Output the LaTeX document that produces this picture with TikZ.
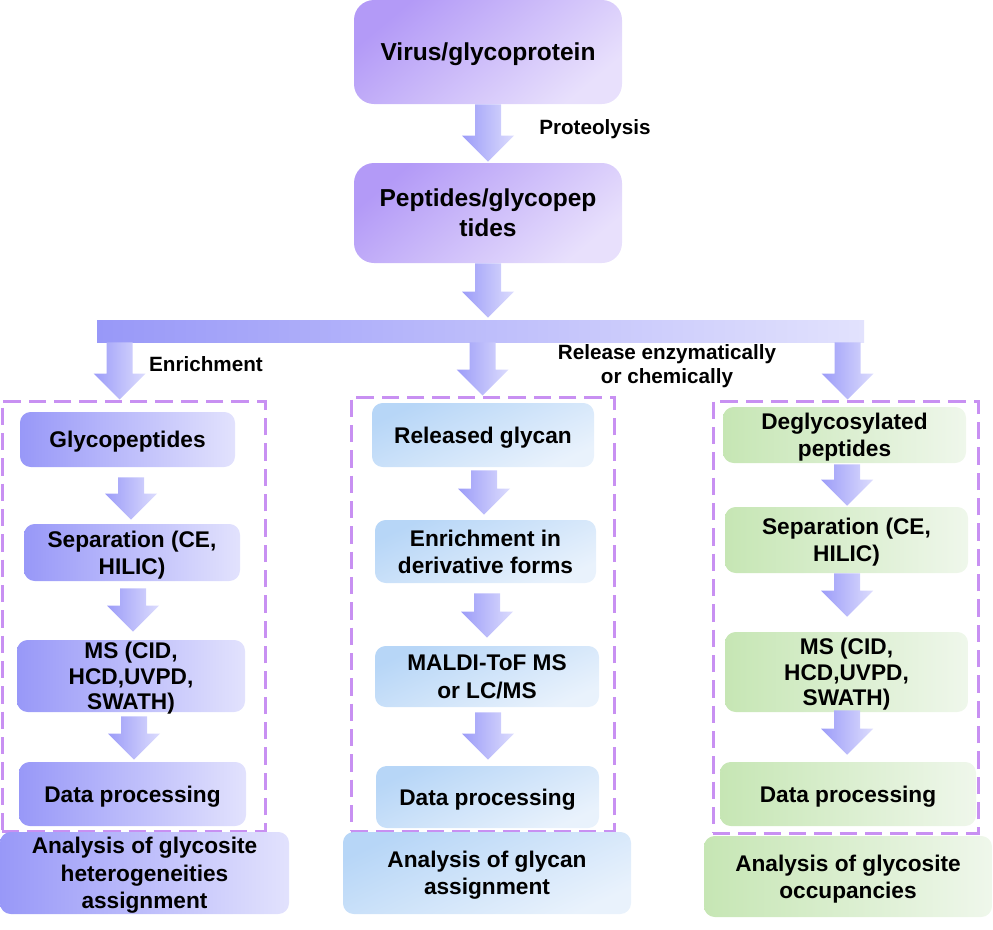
\documentclass[tikz,border=0pt]{standalone}
\usepackage{fontspec}
\setmainfont{Liberation Sans}
\usetikzlibrary{calc}
\definecolor{topA}{HTML}{B39AF7}
\definecolor{topB}{HTML}{E8E0FC}
\definecolor{purA}{HTML}{9898F8}
\definecolor{purB}{HTML}{E2E2FD}
\definecolor{bluA}{HTML}{B7D6F7}
\definecolor{bluB}{HTML}{E9F2FC}
\definecolor{grnA}{HTML}{C6E6B4}
\definecolor{grnB}{HTML}{EFF7EB}
\definecolor{arrA}{HTML}{9C9CF8}
\definecolor{arrB}{HTML}{DCDCFD}
\definecolor{dashc}{HTML}{C890F2}
\tikzset{
  base/.style={inner sep=0pt, align=center, text depth=0pt, font=\bfseries\fontsize{17}{20.5}\selectfont},
  topbox/.style={base, rounded corners=15pt, top color=topA, bottom color=topB, shading angle=40,
    font=\bfseries\fontsize{18.4}{22.5}\selectfont},
  pbox/.style={base, rounded corners=8pt, left color=purA, right color=purB},
  bbox/.style={base, rounded corners=8pt, top color=bluA, bottom color=bluB, shading angle=25},
  gbox/.style={base, rounded corners=8pt, left color=grnA, right color=grnB},
  tight/.style={font=\bfseries\fontsize{17}{19}\selectfont},
  dbox/.style={draw=dashc, line width=2.25pt, dash pattern=on 13pt off 6pt, inner sep=0pt},
  lab/.style={inner sep=0pt, align=center, font=\bfseries\fontsize{15.5}{18.5}\selectfont},
}
\newcommand\barrow[2]{%
  \shade[left color=arrA,right color=arrB] let \p1=#1, \p2=#2 in
  (\x1-9.75pt,\y1) -- (\x1+9.75pt,\y1) -- (\x1+9.75pt,\y2+19.5pt) -- (\x1+19.5pt,\y2+19.5pt)
  -- (\x1,\y2) -- (\x1-19.5pt,\y2+19.5pt) -- (\x1-9.75pt,\y2+19.5pt) -- cycle;}
\begin{document}
\begin{tikzpicture}[x=0.75pt,y=-0.75pt]
\useasboundingbox (0,0) rectangle (993,929);
% dashed group frames
\node[dbox, minimum width={263*0.75pt}, minimum height={430*0.75pt}] (dl) at (133.5,616) {};
\node[dbox, minimum width={263*0.75pt}, minimum height={434*0.75pt}] (dm) at (482.5,614) {};
\node[dbox, minimum width={265*0.75pt}, minimum height={432*0.75pt}] (dr) at (845.5,617) {};
% top
\node[topbox, minimum width={268*0.75pt}, minimum height={104*0.75pt}] (virus) at (488,52) {Virus/glycoprotein};
\node[topbox, minimum width={268*0.75pt}, minimum height={100*0.75pt}] (pep) at (488,213) {Peptides/glycopep\\tides};
\node[left color=purA, right color=purB, inner sep=0pt, minimum width={767*0.75pt}, minimum height={22*0.75pt}] (bar) at (480.5,331) {};
\node[lab] (prot) at (595,129) {Proteolysis};
\node[lab] (enr) at (206,364) {Enrichment};
\node[lab] (rel) at (667,366) {Release enzymatically\\or chemically};
% left column
\node[pbox, minimum width={215*0.75pt}, minimum height={55*0.75pt}] (g1) at (127.5,439.5) {Glycopeptides};
\node[pbox, minimum width={216*0.75pt}, minimum height={57*0.75pt}] (g2) at (132,552.5) {Separation (CE,\\HILIC)};
\node[pbox, tight, minimum width={228*0.75pt}, minimum height={72*0.75pt}] (g3) at (131,676) {MS (CID,\\HCD,UVPD,\\SWATH)};
\node[pbox, minimum width={227*0.75pt}, minimum height={64*0.75pt}] (g4) at (132.5,794) {Data processing};
\node[pbox, minimum width={289*0.75pt}, minimum height={82*0.75pt}] (g5) at (144.5,873) {Analysis of glycosite\\heterogeneities\\assignment};
% middle column
\node[bbox, minimum width={222*0.75pt}, minimum height={64*0.75pt}] (m1) at (483,435) {Released glycan};
\node[bbox, minimum width={221*0.75pt}, minimum height={63*0.75pt}] (m2) at (485.5,551.5) {Enrichment in\\derivative forms};
\node[bbox, minimum width={224*0.75pt}, minimum height={61*0.75pt}] (m3) at (487,676.5) {MALDI-ToF MS\\or LC/MS};
\node[bbox, minimum width={223*0.75pt}, minimum height={62*0.75pt}] (m4) at (487.5,797) {Data processing};
\node[bbox, minimum width={288*0.75pt}, minimum height={82*0.75pt}] (m5) at (487,873) {Analysis of glycan\\assignment};
% right column
\node[gbox, minimum width={243*0.75pt}, minimum height={56*0.75pt}] (r1) at (844.5,435) {Deglycosylated\\peptides};
\node[gbox, minimum width={243*0.75pt}, minimum height={66*0.75pt}] (r2) at (846.5,540) {Separation (CE,\\HILIC)};
\node[gbox, tight, minimum width={243*0.75pt}, minimum height={80*0.75pt}] (r3) at (846.5,672) {MS (CID,\\HCD,UVPD,\\SWATH)};
\node[gbox, minimum width={256*0.75pt}, minimum height={64*0.75pt}] (r4) at (848,794) {Data processing};
\node[gbox, minimum width={288*0.75pt}, minimum height={81*0.75pt}] (r5) at (848,876.5) {Analysis of glycosite\\occupancies};
% block arrows
\barrow{(virus.south)}{($(pep.north)+(0,-1)$)}
\barrow{(pep.south)}{($(bar.north)+(0,-2)$)}
\barrow{($(bar.south west)+(23,0)$)}{(dl.north)}
\barrow{($(bar.south west)+(386,0)$)}{(dm.north)}
\barrow{($(bar.south west)+(751,0)$)}{(dr.north)}
\barrow{($(g1.south)+(3.5,10)$)}{($(g2.north)+(0,-4)$)}
\barrow{($(g2.south)+(1,7)$)}{($(g3.north)+(0,-8)$)}
\barrow{($(g3.south)+(3,4)$)}{($(g4.north)+(0,-2)$)}
\barrow{($(m1.south)+(1,3)$)}{($(m2.north)+(0,-5)$)}
\barrow{($(m2.south)+(1.5,10)$)}{($(m3.north)+(0,-8)$)}
\barrow{($(m3.south)+(1,5)$)}{($(m4.north)+(0,-6)$)}
\barrow{($(r1.south)+(2.5,1)$)}{($(r2.north)+(0,-1)$)}
\barrow{($(r2.south)+(0.5,0)$)}{($(r3.north)+(0,-15)$)}
\barrow{($(r3.south)+(0.5,-2)$)}{($(r4.north)+(0,-7)$)}
\end{tikzpicture}
\end{document}
